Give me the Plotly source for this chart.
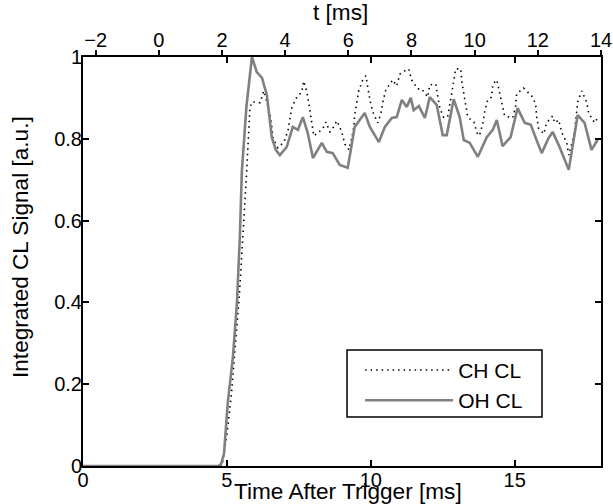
import plotly.graph_objects as go

# ---- data ----
oh_t = [0.0, 4.70, 4.80, 4.90, 5.03, 5.21, 5.35, 5.45, 5.52, 5.68, 5.87,
        6.04, 6.22, 6.39, 6.56, 6.70, 6.84, 7.08, 7.29, 7.47, 7.64, 7.81,
        7.99, 8.30, 8.47, 8.68, 8.92, 9.20, 9.44, 9.79, 9.97, 10.28, 10.49,
        10.73, 10.90, 11.08, 11.25, 11.39, 11.49, 11.67, 11.88, 12.05, 12.29,
        12.50, 12.64, 12.88, 13.09, 13.23, 13.44, 13.72, 14.03, 14.24, 14.38,
        14.58, 14.86, 15.10, 15.35, 15.56, 15.76, 15.94, 16.18, 16.32, 16.56,
        16.88, 17.19, 17.43, 17.67, 17.88]
oh_v = [0.0, 0.0, 0.005, 0.03, 0.154, 0.267, 0.40, 0.56, 0.72, 0.88, 1.0,
        0.963, 0.949, 0.907, 0.804, 0.773, 0.760, 0.780, 0.829, 0.822, 0.853, 0.814,
        0.753, 0.790, 0.768, 0.765, 0.736, 0.729, 0.829, 0.863, 0.829, 0.792, 0.829,
        0.851, 0.853, 0.895, 0.878, 0.900, 0.870, 0.880, 0.851, 0.902, 0.883,
        0.809, 0.809, 0.897, 0.853, 0.797, 0.790, 0.756, 0.804, 0.822, 0.846,
        0.782, 0.804, 0.875, 0.839, 0.834, 0.797, 0.765, 0.802, 0.817, 0.780,
        0.724, 0.858, 0.839, 0.773, 0.797]

ch_t = [0.0, 4.83, 4.93, 5.02, 5.16, 5.43, 5.68, 5.80, 5.87, 6.01, 6.15,
        6.28, 6.39, 6.49, 6.56, 6.60, 6.77, 6.98, 7.12, 7.19, 7.26, 7.43,
        7.60, 7.67, 7.78, 7.85, 7.92, 7.99, 8.02, 8.33, 8.44, 8.58, 8.65,
        8.82, 8.99, 9.10, 9.24, 9.34, 9.41, 9.44, 9.51, 9.58, 9.72, 9.83,
        9.90, 9.97, 10.07, 10.24, 10.35, 10.42, 10.52, 10.76, 10.90, 11.01,
        11.18, 11.32, 11.42, 11.63, 11.77, 11.98, 12.05, 12.26, 12.33, 12.40,
        12.53, 12.67, 12.81, 12.88, 12.95, 13.13, 13.16, 13.23, 13.30, 13.37,
        13.58, 13.72, 13.78, 13.89, 13.96, 14.06, 14.20, 14.24, 14.38, 14.55,
        14.65, 14.93, 15.03, 15.07, 15.31, 15.59, 15.73, 15.76, 15.83, 16.01,
        16.11, 16.32, 16.39, 16.53, 16.63, 16.81, 16.88, 17.01, 17.08, 17.15,
        17.19, 17.33, 17.50, 17.57, 17.78, 17.88]
ch_v = [0.0, 0.0, 0.044, 0.088, 0.178, 0.414, 0.711, 0.875, 0.890, 0.890, 0.888,
        0.917, 0.890, 0.861, 0.831, 0.802, 0.778, 0.792, 0.819, 0.851, 0.878, 0.902,
        0.914, 0.941, 0.914, 0.885, 0.853, 0.826, 0.807, 0.824, 0.841, 0.817, 0.822,
        0.844, 0.817, 0.787, 0.773, 0.802, 0.829, 0.858, 0.888, 0.917, 0.944, 0.954,
        0.924, 0.895, 0.866, 0.839, 0.861, 0.890, 0.919, 0.944, 0.929, 0.958,
        0.966, 0.971, 0.944, 0.922, 0.922, 0.902, 0.932, 0.934, 0.902, 0.875,
        0.853, 0.853, 0.910, 0.941, 0.971, 0.971, 0.941, 0.912, 0.883, 0.853,
        0.841, 0.809, 0.809, 0.836, 0.866, 0.895, 0.902, 0.934, 0.944, 0.885,
        0.856, 0.851, 0.878, 0.910, 0.924, 0.905, 0.885, 0.856, 0.826, 0.812,
        0.839, 0.856, 0.839, 0.846, 0.817, 0.790, 0.760, 0.795, 0.817, 0.863,
        0.890, 0.917, 0.890, 0.863, 0.839, 0.851]

x_ticks = [0, 5, 10, 15]
x_range = [0, 18]
top_ticks = [-2, 0, 2, 4, 6, 8, 10, 12, 14]
top_range = [-2.4, 14]
y_ticks = [0, 0.2, 0.4, 0.6, 0.8, 1.0]
y_range = [0, 1]

FONT = "Liberation Sans, Arial, sans-serif"
TICK_FS = 20
TITLE_FS = 22.6

fig = go.Figure()
fig.add_trace(go.Scatter(x=ch_t, y=ch_v, mode="lines", name="CH CL",
                         line=dict(color="black", width=1.6, dash="1.5px,4px")))
fig.add_trace(go.Scatter(x=oh_t, y=oh_v, mode="lines", name="OH CL",
                         line=dict(color="#808080", width=2.6)))
fig.add_trace(go.Scatter(x=top_range, y=[None, None], xaxis="x2", mode="lines",
                         showlegend=False, hoverinfo="skip"))

axis_common = dict(ticklen=6, tickwidth=1.5, tickcolor="black", showgrid=False,
                   zeroline=False, automargin=False,
                   tickfont=dict(family=FONT, size=TICK_FS, color="black"))

fig.update_layout(
    width=613, height=504,
    margin=dict(l=83, r=12, t=57, b=38),
    paper_bgcolor="white", plot_bgcolor="white",
    font=dict(family=FONT, size=TICK_FS, color="black"),
    showlegend=True,
    xaxis=dict(range=x_range, tickvals=x_ticks, ticks="inside", showline=True,
               linecolor="black", linewidth=2, mirror="ticks",
               ticklabelstandoff=-5, **axis_common),
    xaxis2=dict(range=top_range, tickvals=top_ticks, overlaying="x", side="top",
                ticks="outside", showline=False, ticklabelstandoff=-5, **axis_common),
    yaxis=dict(range=y_range, tickvals=y_ticks, ticks="inside", showline=True,
               linecolor="black", linewidth=2, mirror="ticks",
               ticklabelstandoff=-5, **axis_common),
    legend=dict(x=0.535, y=0.284, xanchor="left", yanchor="top",
                bgcolor="rgba(0,0,0,0)", borderwidth=0,
                font=dict(family=FONT, size=21), itemwidth=88),
    shapes=[dict(type="rect", xref="paper", yref="paper",
                 x0=0.5097, x1=0.8861, y0=0.1198, y1=0.2836,
                 line=dict(color="black", width=1.5), fillcolor="white",
                 layer="above")],
    annotations=[
        dict(text="Time After Trigger [ms]", xref="paper", yref="paper",
             x=0.512, y=-0.062, xanchor="center", yanchor="middle",
             showarrow=False, font=dict(family=FONT, size=TITLE_FS)),
        dict(text="t [ms]", xref="paper", yref="paper",
             x=0.498, y=1.11, xanchor="center", yanchor="middle",
             showarrow=False, font=dict(family=FONT, size=TITLE_FS)),
        dict(text="Integrated CL Signal [a.u.]", xref="paper", yref="paper",
             x=-0.122, y=0.535, xanchor="center", yanchor="middle", textangle=-90,
             showarrow=False, font=dict(family=FONT, size=TITLE_FS)),
    ],
)

fig.write_html("out.html", config={"displayModeBar": False},
               post_script="document.body.style.margin='0';document.body.style.padding='0';")
